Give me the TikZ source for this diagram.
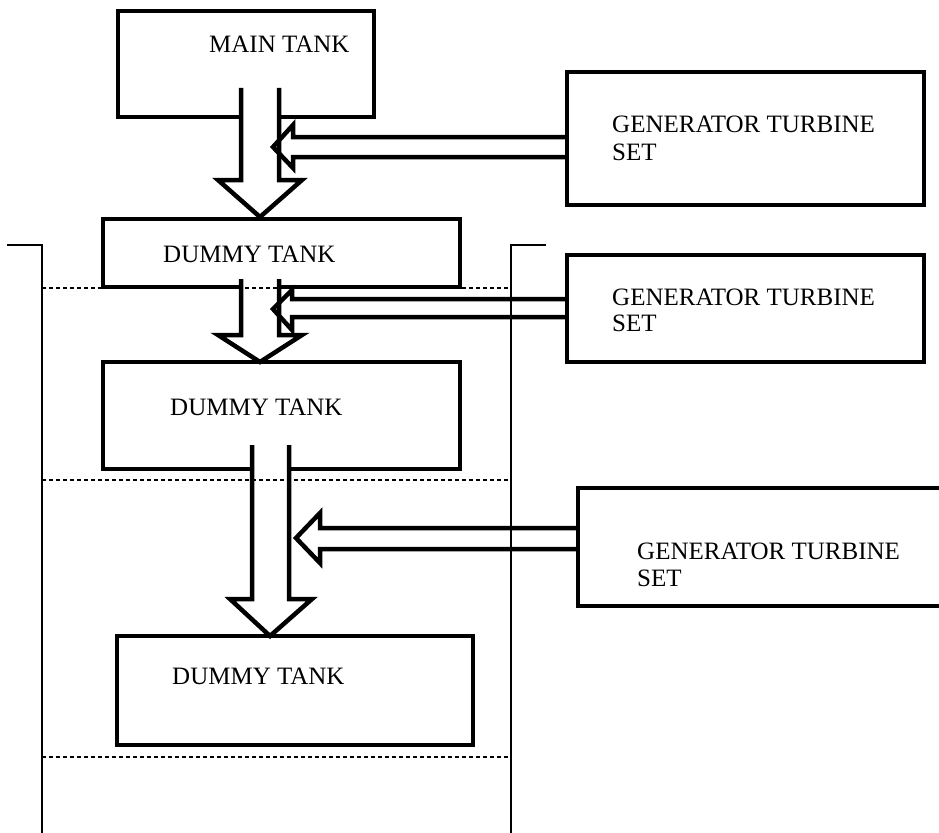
\documentclass[tikz,border=0pt]{standalone}
\usepackage{fontspec}
\setmainfont{Liberation Serif}
\usetikzlibrary{fit}
\begin{document}
\begin{tikzpicture}[x=1pt,y=-1pt,
  tank/.style={draw, line width=4.5pt, inner sep=0pt, outer sep=0pt},
  caption/.style={font=\fontsize{25}{27}\selectfont, inner sep=0pt, anchor=base west},
  flow/.style={draw, line width=4.5pt, line join=miter, miter limit=10, fill=white},
  feed/.style={draw, line width=4.5pt, line join=miter, miter limit=10},
  level/.style={line width=1.5pt, dash pattern=on 4pt off 3pt},
  wall/.style={line width=1.5pt}]
\useasboundingbox (0,0) rectangle (939,832);
\clip (0,0) rectangle (939,832);

% tanks
\node[tank, fit={(118,11) (374,117)}] (main) {};
\node[tank, fit={(103,219) (460,287)}] (dummyA) {};
\node[tank, fit={(103,362) (460,469)}] (dummyB) {};
\node[tank, fit={(117,636) (473,745)}] (dummyC) {};

% generator turbine sets
\node[tank, fit={(567,72) (924,205)}] (genA) {};
\node[tank, fit={(567,255) (924,362)}] (genB) {};
\node[tank, fit={(578,488) (950,606)}] (genC) {};

% labels
\node[caption] (tmain) at (209,53) {MAIN TANK};
\node[caption] (tdA) at (163,262) {DUMMY TANK};
\node[caption] (tdB) at (170,415) {DUMMY TANK};
\node[caption] (tdC) at (172,684) {DUMMY TANK};
\node[caption] (tgA1) at (612,132) {GENERATOR TURBINE};
\node[caption] (tgA2) at (612,160) {SET};
\node[caption] (tgB1) at (612,305) {GENERATOR TURBINE};
\node[caption] (tgB2) at (612,331) {SET};
\node[caption] (tgC1) at (637,559) {GENERATOR TURBINE};
\node[caption] (tgC2) at (637,586) {SET};

% downward flow arrows between tanks
\draw[flow] (241,88) -- (241,180) -- (218,180) -- (260,217) -- (302,180) -- (279,180) -- (279,88);
\draw[flow] (241,279) -- (241,335) -- (218,335) -- (260,362) -- (302,335) -- (279,335) -- (279,279);
\draw[flow] (252,445) -- (252,599) -- (230,599) -- (270,636) -- (312,599) -- (289,599) -- (289,445);

% feed arrows from the generator turbine sets
\draw[feed] (567,137) -- (293,137) -- (293,125) -- (273,147) -- (293,168) -- (293,157) -- (567,157);
\draw[feed] (567,299) -- (292,299) -- (292,290) -- (273,309) -- (292,330) -- (292,317) -- (567,317);
\draw[feed] (578,528) -- (320,528) -- (320,513) -- (296,538) -- (320,563) -- (320,549) -- (578,549);

% containing walls and levels
\draw[wall] (7,245) -- (42,245) -- (42,840);
\draw[wall] (546,245) -- (511,245) -- (511,840);
\draw[level] (42,288) -- (511,288);
\draw[level] (42,480) -- (511,480);
\draw[level] (42,757) -- (511,757);
\end{tikzpicture}
\end{document}
